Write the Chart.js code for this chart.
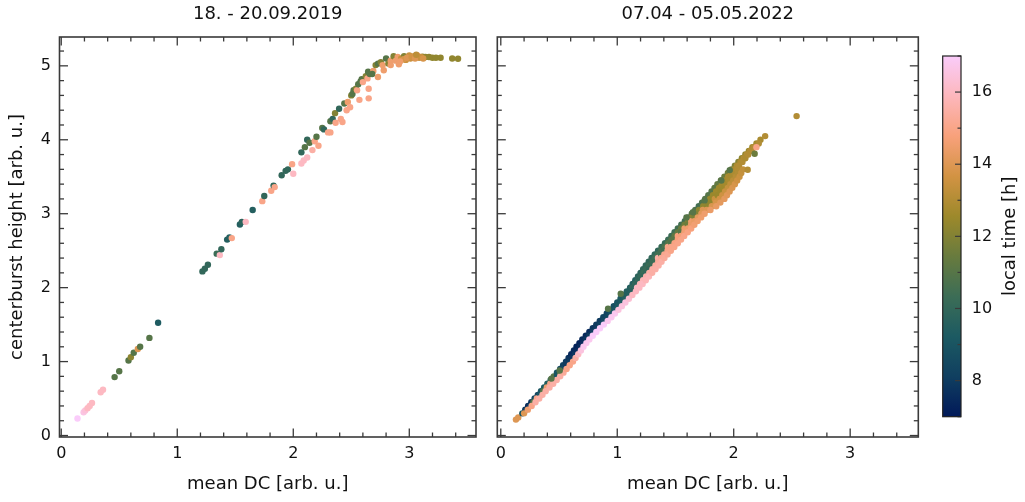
<!DOCTYPE html>
<html lang="en">
<head>
    <meta charset="UTF-8">
    <title>Centerburst height vs mean DC</title>
    <script src="https://cdn.jsdelivr.net/npm/chart.js"></script>
    <style>
        body { margin: 0; background: #fff; }
        .wrap { position: relative; width: 1025px; height: 502px; }
        .wrap canvas { position: absolute; top: 0; }
        #left { left: 0; }
        #right { left: 480px; }
        #cbar { left: 925px; }
    </style>
</head>
<body>
    <div class="wrap">
        <canvas id="left" width="480" height="502"></canvas>
        <canvas id="right" width="445" height="502"></canvas>
        <canvas id="cbar" width="100" height="502"></canvas>
    </div>

    <script>
        // 18. - 20.09.2019: mean DC, centerburst height, local time
        const dc2019 = [
            0.14, 0.193, 0.207, 0.227, 0.245, 0.265, 0.34, 0.36, 0.46, 0.50,
            0.58, 0.60, 0.625, 0.66, 0.68, 0.76, 0.835, 1.217, 1.238, 1.264,
            1.34, 1.367, 1.38, 1.43, 1.45, 1.47, 1.54, 1.557, 1.59, 1.65,
            1.733, 1.75, 1.81, 1.83, 1.84, 1.90, 1.934, 1.954, 1.99, 2.0,
            2.07, 2.09, 2.12, 2.07, 2.10, 2.12, 2.14, 2.165, 2.185, 2.2,
            2.217, 2.25, 2.265, 2.30, 2.32, 2.32, 2.34, 2.36, 2.365, 2.395,
            2.41, 2.424, 2.44, 2.46, 2.47, 2.49, 2.50, 2.51, 2.52, 2.54,
            2.55, 2.57, 2.56, 2.58, 2.59, 2.60, 2.625, 2.64, 2.65, 2.65,
            2.645, 2.66, 2.69, 2.68, 2.73, 2.71, 2.73, 2.755, 2.77, 2.78,
            2.80, 2.82, 2.84, 2.84, 2.865, 2.885, 2.91, 2.90, 2.93, 2.955,
            2.97, 3.0, 3.01, 3.04, 3.07, 3.085, 3.115, 3.14, 3.17, 3.20,
            3.23, 3.27, 3.37, 3.42, 2.95, 2.98, 3.02, 3.05, 3.10, 3.12,
            2.92, 3.06
        ];
        const cb2019 = [
            0.23, 0.315, 0.34, 0.37, 0.40, 0.44, 0.585, 0.62, 0.79, 0.87,
            1.015, 1.06, 1.12, 1.17, 1.20, 1.32, 1.525, 2.22, 2.255, 2.31,
            2.46, 2.44, 2.52, 2.65, 2.68, 2.67, 2.855, 2.89, 2.89, 3.05,
            3.17, 3.24, 3.31, 3.38, 3.36, 3.52, 3.58, 3.60, 3.67, 3.54,
            3.68, 3.72, 3.76, 3.83, 3.90, 4.0, 3.96, 3.86, 3.98, 4.04,
            3.92, 4.16, 4.14, 4.10, 4.10, 4.25, 4.28, 4.36, 4.23, 4.42,
            4.28, 4.24, 4.49, 4.40, 4.51, 4.44, 4.60, 4.62, 4.67, 4.69,
            4.67, 4.54, 4.75, 4.79, 4.82, 4.78, 4.86, 4.83, 4.69, 4.56,
            4.92, 4.89, 4.93, 4.89, 4.85, 5.01, 5.03, 5.05, 5.01, 4.94,
            5.10, 5.03, 5.07, 5.01, 5.13, 5.07, 5.02, 5.12, 5.10, 5.13,
            5.08, 5.14, 5.10, 5.13, 5.14, 5.11, 5.125, 5.12, 5.12, 5.11,
            5.11, 5.11, 5.10, 5.095, 5.09, 5.11, 5.12, 5.10, 5.12, 5.10,
            5.06, 5.15
        ];
        const lt2019 = [
            17, 16.6, 16.4, 16, 16, 16, 16, 16, 11, 11,
            11, 12.2, 11, 14, 11, 11, 9.3, 10, 10, 10,
            10.3, 16, 10, 9.5, 9.5, 15, 9.5, 9.8, 16, 9.5,
            15, 10, 15, 10, 15, 10, 10, 10, 15, 16,
            16, 16, 16, 10, 11, 10, 11, 15.5, 15, 11,
            15, 11, 10, 15, 15, 11, 10, 12, 15, 10,
            15, 15, 11, 15, 14.5, 15, 12, 11, 11, 12,
            15, 15, 11, 11, 11, 15, 12, 15, 15, 15,
            11, 11, 14.5, 11, 14.5, 12, 11, 12, 14.5, 14.5,
            11, 12, 14.5, 14.5, 12, 14.5, 14.5, 14.5, 13.5, 12,
            13.5, 13.5, 13.5, 13.5, 14.5, 13.5, 12.3, 12.3, 12.3, 12.3,
            12.3, 12.3, 12.3, 12.3, 13.8, 14, 13.7, 14, 13.5, 13.8,
            14.5, 13.2
        ];

        // 07.04 - 05.05.2022:
        // start, upper edge, upper-middle, middle, lower-middle, lower edge, loose points
        const dc2022 = [
            0.13, 0.15,
            0.185, 0.21, 0.235, 0.262, 0.29, 0.318, 0.345, 0.372, 0.40, 0.428,
            0.455, 0.482, 0.51, 0.535, 0.56, 0.582, 0.605, 0.628, 0.65, 0.675,
            0.70, 0.73, 0.76, 0.79, 0.82, 0.85, 0.88, 0.91, 0.94, 0.97,
            1.00, 1.028, 1.055, 1.082, 1.11, 1.132, 1.155, 1.178, 1.20, 1.222,
            1.245, 1.27, 1.295, 1.322, 1.35, 1.38, 1.41, 1.438, 1.465, 1.492,
            1.52, 1.55, 1.58, 1.61, 1.64, 1.67, 1.70, 1.728, 1.755, 1.782,
            1.81, 1.835, 1.86, 1.89, 1.92, 1.95, 1.98, 2.01, 2.04, 2.07,
            2.10, 2.13, 2.16, 2.195, 2.23, 2.27,
            1.13, 1.154, 1.178, 1.202, 1.225, 1.248, 1.272, 1.298, 1.322, 1.35,
            1.378, 1.408, 1.438, 1.466, 1.492, 1.52, 1.549, 1.578, 1.608, 1.638,
            1.668, 1.702, 1.738, 1.767, 1.797, 1.822, 1.849, 1.874, 1.898, 1.925,
            1.952, 1.979, 2.005, 2.028, 2.058, 2.085, 2.112, 2.142, 2.17,
            0.25, 0.28, 0.31, 0.338, 0.365, 0.395, 0.425, 0.454, 0.482, 0.51,
            0.538, 0.564, 0.59, 0.612, 0.635, 0.658, 0.68, 0.705, 0.73, 0.76,
            0.79, 0.821, 0.852, 0.884, 0.915, 0.945, 0.975, 1.005, 1.035, 1.064,
            1.092, 1.121, 1.15, 1.175, 1.20, 1.225, 1.25, 1.275, 1.30, 1.325,
            1.35, 1.377, 1.405, 1.435, 1.465, 1.493, 1.52, 1.548, 1.578, 1.606,
            1.635, 1.665, 1.695, 1.735, 1.775, 1.806, 1.838, 1.862, 1.888, 1.912,
            1.935, 1.96, 1.985, 2.008, 2.03, 2.045, 2.075, 2.10, 2.125, 2.155,
            2.18, 2.215,
            1.17, 1.196, 1.222, 1.248, 1.275, 1.302, 1.328, 1.352, 1.378, 1.404,
            1.432, 1.462, 1.492, 1.52, 1.548, 1.576, 1.606, 1.634, 1.662, 1.692,
            1.722, 1.768, 1.812, 1.846, 1.879, 1.902, 1.926, 1.95, 1.972, 1.995,
            2.018, 2.036, 2.055,
            0.20, 0.232, 0.265, 0.298, 0.33, 0.358, 0.385, 0.418, 0.45, 0.48,
            0.51, 0.538, 0.565, 0.592, 0.62, 0.642, 0.665, 0.688, 0.71, 0.735,
            0.76, 0.79, 0.82, 0.852, 0.885, 0.918, 0.95, 0.98, 1.01, 1.04,
            1.07, 1.10, 1.13, 1.16, 1.19, 1.218, 1.245, 1.272, 1.30, 1.328,
            1.355, 1.38, 1.405, 1.432, 1.46, 1.49, 1.52, 1.548, 1.575, 1.605,
            1.635, 1.662, 1.69, 1.72, 1.75, 1.80, 1.85, 1.885, 1.92, 1.942,
            1.965, 1.988, 2.01, 2.03, 2.05, 2.065, 2.08,
            0.435, 0.506, 0.921, 1.03, 1.594, 1.65, 1.75, 1.894, 1.966, 2.18,
            2.12, 2.195, 2.54
        ];
        const cb2022 = [
            0.215, 0.245,
            0.30, 0.35, 0.40, 0.45, 0.50, 0.55, 0.60, 0.65, 0.70, 0.75,
            0.80, 0.85, 0.90, 0.95, 1.00, 1.05, 1.10, 1.15, 1.20, 1.25,
            1.30, 1.35, 1.40, 1.45, 1.50, 1.55, 1.60, 1.65, 1.70, 1.75,
            1.80, 1.85, 1.90, 1.95, 2.00, 2.05, 2.10, 2.15, 2.20, 2.25,
            2.30, 2.35, 2.40, 2.45, 2.50, 2.55, 2.60, 2.65, 2.70, 2.75,
            2.80, 2.85, 2.90, 2.95, 3.00, 3.05, 3.10, 3.15, 3.20, 3.25,
            3.30, 3.35, 3.40, 3.45, 3.50, 3.55, 3.60, 3.65, 3.70, 3.75,
            3.80, 3.85, 3.90, 3.95, 4.00, 4.05,
            2.00, 2.05, 2.10, 2.15, 2.20, 2.25, 2.30, 2.35, 2.40, 2.45,
            2.50, 2.55, 2.60, 2.65, 2.70, 2.75, 2.80, 2.85, 2.90, 2.95,
            3.00, 3.05, 3.10, 3.15, 3.20, 3.25, 3.30, 3.35, 3.40, 3.45,
            3.50, 3.55, 3.60, 3.65, 3.70, 3.75, 3.80, 3.85, 3.90,
            0.40, 0.45, 0.50, 0.55, 0.60, 0.65, 0.70, 0.75, 0.80, 0.85,
            0.90, 0.95, 1.00, 1.05, 1.10, 1.15, 1.20, 1.25, 1.30, 1.35,
            1.40, 1.45, 1.50, 1.55, 1.60, 1.65, 1.70, 1.75, 1.80, 1.85,
            1.90, 1.95, 2.00, 2.05, 2.10, 2.15, 2.20, 2.25, 2.30, 2.35,
            2.40, 2.45, 2.50, 2.55, 2.60, 2.65, 2.70, 2.75, 2.80, 2.85,
            2.90, 2.95, 3.00, 3.05, 3.10, 3.15, 3.20, 3.25, 3.30, 3.35,
            3.40, 3.45, 3.50, 3.55, 3.60, 3.65, 3.70, 3.75, 3.80, 3.85,
            3.90, 3.95,
            2.00, 2.05, 2.10, 2.15, 2.20, 2.25, 2.30, 2.35, 2.40, 2.45,
            2.50, 2.55, 2.60, 2.65, 2.70, 2.75, 2.80, 2.85, 2.90, 2.95,
            3.00, 3.05, 3.10, 3.15, 3.20, 3.25, 3.30, 3.35, 3.40, 3.45,
            3.50, 3.55, 3.60,
            0.30, 0.35, 0.40, 0.45, 0.50, 0.55, 0.60, 0.65, 0.70, 0.75,
            0.80, 0.85, 0.90, 0.95, 1.00, 1.05, 1.10, 1.15, 1.20, 1.25,
            1.30, 1.35, 1.40, 1.45, 1.50, 1.55, 1.60, 1.65, 1.70, 1.75,
            1.80, 1.85, 1.90, 1.95, 2.00, 2.05, 2.10, 2.15, 2.20, 2.25,
            2.30, 2.35, 2.40, 2.45, 2.50, 2.55, 2.60, 2.65, 2.70, 2.75,
            2.80, 2.85, 2.90, 2.95, 3.00, 3.05, 3.10, 3.15, 3.20, 3.25,
            3.30, 3.35, 3.40, 3.45, 3.50, 3.55, 3.60,
            0.77, 0.88, 1.714, 1.917, 2.95, 3.02, 3.18, 3.45, 3.59, 3.81,
            3.595, 3.90, 4.32
        ];
        const lt2022 = [
            14, 14,
            9, 8, 7.5, 7.8, 8.5, 8.5, 9, 9.3, 9.5, 10,
            11, 9, 8.5, 8.2, 8, 7.8, 7.5, 7.5, 7.3, 7.3,
            7.5, 7.5, 7.5, 7.8, 8, 8, 8.3, 8.3, 8.5, 8.8,
            9, 9.2, 9.5, 9.5, 9.5, 9.5, 9.5, 9.8, 9.8, 10,
            10, 10, 10, 10, 10, 10.2, 10.2, 10.3, 10.3, 10.4,
            10.5, 10.5, 10.5, 10.8, 11, 10.8, 10.5, 10.8, 11, 11,
            11, 11.2, 11.3, 11.3, 11.5, 11.6, 11.8, 11.9, 12, 12.2,
            12.3, 12.5, 12.6, 12.7, 12.8, 13,
            10, 10, 10, 10.1, 10.2, 10.2, 10.3, 10.3, 10.4, 10.5,
            10.6, 10.8, 11, 11, 11.2, 11.3, 11.5, 11.6, 11.8, 12,
            12, 12.2, 12.3, 12.4, 12.5, 12.5, 12.6, 12.6, 12.7, 12.7,
            12.8, 12.8, 12.8, 12.9, 12.9, 13, 13, 13, 13,
            8, 11, 15, 9, 11, 14.5, 15, 9.5, 9, 11,
            8.5, 8, 8, 7.8, 7.8, 7.5, 7.5, 7.5, 7.8, 8,
            8, 8, 8.2, 8.5, 8.5, 8.8, 9, 9.2, 9.3, 9.5,
            9.5, 9.6, 9.8, 9.8, 10, 10, 10, 10, 10.2, 10.3,
            15.5, 10.5, 10.5, 15, 10.8, 11, 14.8, 11, 14.5, 11.5,
            14.5, 11.8, 12, 14, 12.2, 12.3, 13.5, 12.5, 12.5, 12.6,
            12.7, 12.8, 12.8, 12.9, 13, 13, 13, 12.9, 13, 13,
            13.1, 13,
            16, 15.8, 15.8, 15.6, 15.5, 15.5, 15.4, 15.3, 15.2, 15.1,
            15, 15, 14.9, 14.8, 14.7, 14.6, 14.5, 14.4, 14.3, 14.2,
            14.1, 14, 13.9, 13.8, 13.7, 13.6, 13.5, 13.4, 13.3, 13.2,
            13.1, 13, 13,
            14, 14.5, 15, 15.5, 15.5, 15.5, 15.5, 15.5, 15.5, 15.5,
            15.5, 15.3, 15, 15, 15, 15.5, 16, 16.5, 16.8, 16.8,
            16.8, 17, 17, 17, 17, 16.8, 16.8, 16.8, 16.5, 16.5,
            16.5, 16.3, 16, 16, 16, 16, 15.8, 15.8, 15.5, 15.5,
            15.5, 15.5, 15.3, 15.2, 15, 15, 15, 15, 15, 14.9,
            14.8, 14.6, 14.5, 14.5, 14.5, 14.4, 14.3, 14.2, 14.2, 14.1,
            14, 13.9, 13.8, 13.6, 13.5, 13.4, 13.3,
            11, 11, 11, 11, 11, 11, 11, 11, 11, 11.5,
            13, 15, 13
        ];

        const panelTitles = ['18. - 20.09.2019', '07.04 - 05.05.2022'];
        const xTitle = 'mean DC [arb. u.]';
        const yTitle = 'centerburst height [arb. u.]';
        const cbarTitle = 'local time [h]';
        const cbarTicks = [8, 10, 12, 14, 16];
        const tMin = 7;
        const tMax = 17;

        // batlow colour map, 10 stops
        const batlow = [
            [1, 25, 89], [16, 63, 96], [28, 90, 98], [60, 109, 86], [104, 123, 62],
            [157, 137, 43], [210, 147, 67], [248, 161, 123], [253, 183, 188], [250, 204, 250]
        ];

        function timeColor(t) {
            const f = Math.min(Math.max((t - tMin) / (tMax - tMin), 0), 1) * (batlow.length - 1);
            const i = Math.min(Math.floor(f), batlow.length - 2);
            const w = f - i;
            const c = batlow[i].map((v, k) => Math.round(v + (batlow[i + 1][k] - v) * w));
            return `rgb(${c.join(',')})`;
        }

        Chart.defaults.font.family = "'DejaVu Sans', sans-serif";
        Chart.defaults.color = '#111';

        const INK = '#3a3a3a';

        // frame + inward ticks (mirrored), majors from the scale, minors every `minor`
        const frameTicks = {
            id: 'frameTicks',
            afterDatasetsDraw(chart, args, opts) {
                const { ctx, chartArea: a } = chart;
                ctx.save();
                ctx.strokeStyle = INK;
                ctx.lineWidth = opts.tickWidth;
                const mark = (x1, y1, x2, y2) => {
                    ctx.beginPath();
                    ctx.moveTo(x1, y1);
                    ctx.lineTo(x2, y2);
                    ctx.stroke();
                };
                opts.scales.forEach(s => {
                    const scale = chart.scales[s.id];
                    const majors = scale.ticks.map(t => t.value);
                    const k0 = Math.ceil(scale.min / s.minor - 1e-9);
                    const k1 = Math.floor(scale.max / s.minor + 1e-9);
                    for (let k = k0; k <= k1; k++) {
                        const v = k * s.minor;
                        const len = majors.some(m => Math.abs(m - v) < 1e-6) ? opts.major : opts.minorLen;
                        const p = scale.getPixelForValue(v);
                        if (scale.isHorizontal()) {
                            if (s.sides.includes('bottom')) mark(p, a.bottom, p, a.bottom - len);
                            if (s.sides.includes('top')) mark(p, a.top, p, a.top + len);
                        } else {
                            if (s.sides.includes('left')) mark(a.left, p, a.left + len, p);
                            if (s.sides.includes('right')) mark(a.right, p, a.right - len, p);
                        }
                    }
                });
                ctx.lineWidth = opts.frameWidth;
                ctx.strokeStyle = opts.frameColor || INK;
                ctx.strokeRect(a.left, a.top, a.right - a.left, a.bottom - a.top);
                ctx.restore();
            }
        };

        // rotated label read bottom-to-top, for the colour bar
        const sideTitle = {
            id: 'sideTitle',
            afterDraw(chart, args, opts) {
                const { ctx, chartArea: a } = chart;
                ctx.save();
                ctx.font = `${opts.size}px 'DejaVu Sans', sans-serif`;
                ctx.fillStyle = '#111';
                ctx.translate(opts.x, (a.top + a.bottom) / 2);
                ctx.rotate(-Math.PI / 2);
                ctx.textAlign = 'center';
                ctx.textBaseline = 'middle';
                ctx.fillText(opts.text, 0, 0);
                ctx.restore();
            }
        };

        function panel(canvasId, title, xs, ys, ts, cfg) {
            const points = xs.map((x, i) => ({ x: x, y: ys[i] }));
            return new Chart(document.getElementById(canvasId), {
                type: 'scatter',
                data: {
                    datasets: [{
                        data: points,
                        pointRadius: 3.2,
                        pointHoverRadius: 3.2,
                        pointBorderWidth: 0,
                        pointBackgroundColor: ts.map(timeColor)
                    }]
                },
                options: {
                    responsive: false,
                    animation: false,
                    events: [],
                    layout: { padding: { left: 0, right: cfg.padRight, top: 0, bottom: 0 } },
                    plugins: {
                        legend: { display: false },
                        tooltip: { enabled: false },
                        title: {
                            display: true,
                            text: title,
                            fullSize: false,
                            font: { size: 18, weight: 'normal' },
                            color: '#111',
                            padding: { top: 4, bottom: 11.4 }
                        },
                        frameTicks: {
                            tickWidth: 1.3, frameWidth: 1.6, major: 8.5, minorLen: 4.5,
                            scales: [
                                { id: 'x', minor: 0.2, sides: ['bottom', 'top'] },
                                { id: 'y', minor: 0.2, sides: ['left', 'right'] }
                            ]
                        }
                    },
                    scales: {
                        x: {
                            type: 'linear',
                            min: cfg.xMin,
                            max: cfg.xMax,
                            ticks: { stepSize: 1, includeBounds: false, padding: 7.5, font: { size: 16 }, color: '#111' },
                            grid: { display: false, drawTicks: false },
                            border: { display: false },
                            title: { display: true, text: xTitle, font: { size: 18 }, color: '#111', padding: { top: 0, bottom: 7.2 } },
                            afterFit: s => { s.height = 65; }
                        },
                        y: {
                            type: 'linear',
                            min: -0.02,
                            max: 5.39,
                            ticks: { display: cfg.yLabels, stepSize: 1, includeBounds: false, padding: 8.5, font: { size: 16 }, color: '#111' },
                            grid: { display: false, drawTicks: false },
                            border: { display: false },
                            title: { display: cfg.yLabels, text: yTitle, font: { size: 18 }, color: '#111', padding: { top: 7, bottom: 0 } },
                            afterFit: s => { s.width = cfg.yWidth; }
                        }
                    }
                },
                plugins: [frameTicks]
            });
        }

        panel('left', panelTitles[0], dc2019, cb2019, lt2019,
            { xMin: -0.015, xMax: 3.575, padRight: 4, yWidth: 59.5, yLabels: true });
        panel('right', panelTitles[1], dc2022, cb2022, lt2022,
            { xMin: -0.03, xMax: 3.585, padRight: 6.7, yWidth: 17.3, yLabels: false });

        // colour bar: one floating bar spanning the time range, filled with the map
        new Chart(document.getElementById('cbar'), {
            type: 'bar',
            data: {
                labels: [''],
                datasets: [{
                    data: [[tMin, tMax]],
                    barPercentage: 1,
                    categoryPercentage: 1,
                    borderWidth: 0,
                    backgroundColor: context => {
                        const area = context.chart.chartArea;
                        if (!area) return null;
                        const g = context.chart.ctx.createLinearGradient(0, area.bottom, 0, area.top);
                        batlow.forEach((c, i) => g.addColorStop(i / (batlow.length - 1), `rgb(${c.join(',')})`));
                        return g;
                    }
                }]
            },
            options: {
                responsive: false,
                animation: false,
                events: [],
                layout: { padding: { left: 17.7, right: 0, top: 56, bottom: 85.3 } },
                plugins: {
                    legend: { display: false },
                    tooltip: { enabled: false },
                    frameTicks: {
                        tickWidth: 1.2, frameWidth: 1.2, frameColor: '#222', major: 6, minorLen: 3.5,
                        scales: [{ id: 'y', minor: 1, sides: ['right'] }]
                    },
                    sideTitle: { text: cbarTitle, size: 18, x: 85 }
                },
                scales: {
                    x: { display: false },
                    y: {
                        position: 'right',
                        min: tMin,
                        max: tMax,
                        ticks: { padding: 10.7, font: { size: 16 }, color: '#111' },
                        afterBuildTicks: s => { s.ticks = cbarTicks.map(v => ({ value: v })); },
                        grid: { display: false, drawTicks: false },
                        border: { display: false },
                        afterFit: s => { s.width = 64; }
                    }
                }
            },
            plugins: [frameTicks, sideTitle]
        });
    </script>
</body>
</html>
